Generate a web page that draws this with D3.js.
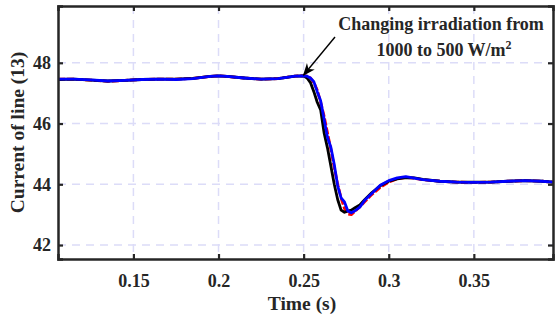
<!DOCTYPE html>
<html>
<head>
<meta charset="utf-8">
<script src="https://cdn.jsdelivr.net/npm/d3@7"></script>
<style>
  body { margin: 0; background: #fff; }
  svg text { font-family: "Liberation Serif", "Times New Roman", serif; font-weight: bold; fill: #262626; }
</style>
</head>
<body>
<svg id="chart" width="555" height="315"></svg>
<script>
// time (s)
const time = [0.1057, 0.115, 0.125, 0.135, 0.145, 0.155, 0.165, 0.175, 0.185, 0.195, 0.2, 0.205, 0.215, 0.225, 0.235, 0.245, 0.25,
  0.252, 0.254, 0.256, 0.258, 0.26, 0.262, 0.264, 0.266, 0.268, 0.27, 0.272, 0.274, 0.276, 0.278, 0.28, 0.283, 0.286, 0.29, 0.295,
  0.3, 0.305, 0.31, 0.315, 0.32, 0.33, 0.34, 0.35, 0.36, 0.37, 0.38, 0.39, 0.3965];

const iRed = [47.46, 47.46, 47.43, 47.39, 47.42, 47.45, 47.46, 47.46, 47.49, 47.55, 47.57, 47.55, 47.50, 47.46, 47.48, 47.56, 47.58,
  47.56, 47.5, 47.35, 47.1, 46.7, 46.25, 45.7, 45.15, 44.55, 44.0, 43.55, 43.2, 43.02, 43.0, 43.1, 43.26, 43.43, 43.66, 43.9,
  44.07, 44.18, 44.22, 44.2, 44.15, 44.1, 44.07, 44.06, 44.07, 44.1, 44.12, 44.1, 44.07];

const iBlack = [47.45, 47.46, 47.43, 47.40, 47.42, 47.45, 47.46, 47.46, 47.49, 47.55, 47.57, 47.55, 47.50, 47.46, 47.48, 47.56, 47.57,
  47.5, 47.35, 47.05, 46.7, 46.45, 45.7, 45.2, 44.6, 44.0, 43.5, 43.15, 43.08, 43.12, 43.15, 43.22, 43.32, 43.5, 43.72, 43.95,
  44.1, 44.18, 44.22, 44.21, 44.16, 44.1, 44.07, 44.07, 44.07, 44.1, 44.12, 44.1, 44.07];

const iBlue = [47.46, 47.46, 47.44, 47.40, 47.42, 47.45, 47.46, 47.45, 47.48, 47.55, 47.57, 47.55, 47.50, 47.46, 47.48, 47.56, 47.57,
  47.56, 47.50, 47.38, 47.05, 46.75, 46.15, 45.55, 45.22, 44.65, 43.95, 43.55, 43.42, 43.12, 43.06, 43.12, 43.25, 43.48, 43.7, 43.97,
  44.12, 44.21, 44.25, 44.2, 44.15, 44.1, 44.07, 44.06, 44.07, 44.1, 44.12, 44.1, 44.07];

const xTicks = [0.15, 0.2, 0.25, 0.3, 0.35];
const yTicks = [42, 44, 46, 48];

const svg = d3.select("#chart");
const m = { left: 58, right: 2, top: 6, bottom: 56 };
const W = 555, H = 315;

const x = d3.scaleLinear().domain([0.1057, 0.3965]).range([m.left, W - m.right]);
const y = d3.scaleLinear().domain([41.54, 49.87]).range([H - m.bottom, m.top]);

// grid
svg.append("g").selectAll("line").data(xTicks).join("line")
  .attr("x1", d => x(d)).attr("x2", d => x(d))
  .attr("y1", m.top).attr("y2", H - m.bottom)
  .attr("stroke", "#dcdcf8").attr("stroke-width", 1.5).attr("stroke-dasharray", "8,6");
svg.append("g").selectAll("line").data(yTicks).join("line")
  .attr("x1", m.left).attr("x2", W - m.right)
  .attr("y1", d => y(d)).attr("y2", d => y(d))
  .attr("stroke", "#dcdcf8").attr("stroke-width", 1.5).attr("stroke-dasharray", "8,6");

// curves
const series = [
  { v: iRed, color: "#ff0000", dash: "7,2" },
  { v: iBlack, color: "#000000", dash: null },
  { v: iBlue, color: "#0000ff", dash: null }
];
const line = d3.line().x((d, i) => x(time[i])).y(d => y(d));
series.forEach(s => {
  svg.append("path")
    .attr("d", line(s.v))
    .attr("fill", "none")
    .attr("stroke", s.color)
    .attr("stroke-width", 2.8)
    .attr("stroke-linejoin", "round")
    .attr("stroke-dasharray", s.dash);
});

// axes (box with inward ticks)
const tl = -5;
svg.append("g").attr("transform", `translate(0,${H - m.bottom})`)
  .call(d3.axisBottom(x).tickValues(xTicks).tickSize(tl).tickFormat(d3.format("")))
  .call(g => g.selectAll("text").attr("dy", null).attr("y", 28).style("font-size", "18px"));
svg.append("g").attr("transform", `translate(0,${m.top})`)
  .call(d3.axisTop(x).tickValues(xTicks).tickSize(tl).tickFormat(""));
svg.append("g").attr("transform", `translate(${m.left},0)`)
  .call(d3.axisLeft(y).tickValues(yTicks).tickSize(tl).tickFormat(d3.format("d")))
  .call(g => g.selectAll("text").attr("x", -7).style("font-size", "18px"));
svg.append("g").attr("transform", `translate(${W - m.right},0)`)
  .call(d3.axisRight(y).tickValues(yTicks).tickSize(tl).tickFormat(""));

svg.selectAll(".domain, .tick line").attr("stroke", "#262626").attr("stroke-width", 2.2);
svg.selectAll(".domain").attr("stroke-width", 2.5);
svg.selectAll(".tick text").attr("fill", "#262626").style("font-family", "Liberation Serif").style("font-weight", "bold");

// labels
svg.append("text").attr("x", 302).attr("y", 310)
  .attr("text-anchor", "middle").style("font-size", "19.5px").text("Time (s)");
svg.append("text")
  .attr("transform", `translate(24,${(m.top + H - m.bottom) / 2}) rotate(-90)`)
  .attr("text-anchor", "middle").style("font-size", "19.5px").text("Current of line (13)");

// annotation
const tipX = x(0.25), tipY = y(47.6);
svg.append("defs").append("marker")
  .attr("id", "arr").attr("viewBox", "0 0 10 10").attr("refX", 9).attr("refY", 5)
  .attr("markerWidth", 9).attr("markerHeight", 9).attr("orient", "auto-start-reverse")
  .append("path").attr("d", "M0,1 L10,5 L0,9 L3,5 Z").attr("fill", "#000");
svg.append("line")
  .attr("x1", 335).attr("y1", 37).attr("x2", tipX).attr("y2", tipY)
  .attr("stroke", "#000").attr("stroke-width", 1.4).attr("marker-end", "url(#arr)");
const ann = svg.append("text").attr("text-anchor", "middle").style("font-size", "18px");
ann.append("tspan").attr("x", 441).attr("y", 30).text("Changing irradiation from");
ann.append("tspan").attr("x", 444).attr("y", 56).text("1000 to 500 W/m");
ann.append("tspan").attr("dy", -7).style("font-size", "12px").text("2");
</script>
</body>
</html>
